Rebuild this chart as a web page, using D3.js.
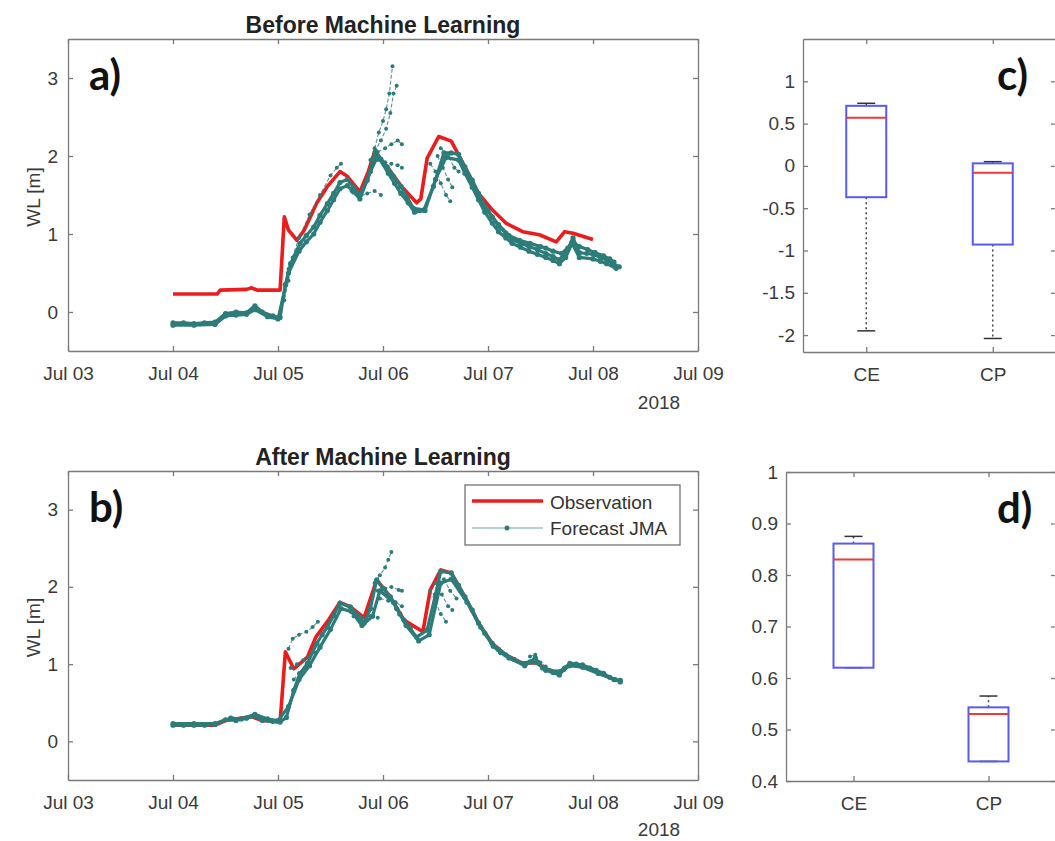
<!DOCTYPE html>
<html lang="en">
<head>
    <meta charset="UTF-8">
    <title>Water level forecast before and after machine learning</title>
    <script src="https://d3js.org/d3.v7.min.js"></script>
    <style>
        body {
            margin: 0;
            background: #ffffff;
            font-family: "Liberation Sans", Arial, sans-serif;
        }
        .tick text {
            fill: #3a3a3a;
            font-size: 19px;
            font-family: "Liberation Sans", Arial, sans-serif;
        }
        .tick line, .domain {
            stroke: #7a7a7a;
            stroke-width: 1.3;
        }
        .title {
            font-size: 23px;
            font-weight: bold;
            fill: #222;
        }
        .ylab, .extra {
            font-size: 19px;
            fill: #3a3a3a;
        }
        .panel-tag {
            font-family: Lato, "Open Sans", sans-serif;
            font-size: 42px;
            font-weight: bold;
            fill: #111;
        }
        .legend-text {
            font-size: 19px;
            fill: #333;
        }
    </style>
</head>
<body>
<svg id="fig" width="1055" height="841"></svg>
<script>
    // water level [m] vs day of July 2018 (decimal days)
    let obsA = [[4.0,0.23],[4.42,0.23],[4.45,0.28],[4.7,0.29],[4.75,0.31],[4.8,0.28],[5.02,0.28],[5.06,1.22],[5.1,1.05],
        [5.18,0.92],[5.25,1.05],[5.37,1.40],[5.47,1.61],[5.59,1.80],[5.66,1.74],[5.78,1.54],[5.86,1.80],[5.92,2.05],
        [6.04,1.86],[6.17,1.62],[6.32,1.40],[6.36,1.45],[6.42,1.97],[6.53,2.25],[6.65,2.19],[6.78,1.86],[6.91,1.52],
        [7.04,1.31],[7.17,1.14],[7.33,1.03],[7.49,0.99],[7.65,0.90],[7.73,1.03],[7.81,1.01],[8.0,0.93]];

    let fcCoreA = [
        [[4.0,-0.14],[4.1,-0.14],[4.2,-0.15],[4.3,-0.14],[4.4,-0.13],[4.5,-0.02],[4.6,0.0],[4.7,-0.01],[4.78,0.08],[4.85,0.0],
         [4.95,-0.05],[5.02,-0.07],[5.07,0.35],[5.12,0.62],[5.21,0.88],[5.27,0.98],[5.34,1.09],[5.4,1.24],[5.47,1.39],[5.53,1.52],
         [5.59,1.66],[5.66,1.70],[5.72,1.60],[5.78,1.50],[5.85,1.69],[5.93,2.06],[5.98,1.96],[6.04,1.86],[6.1,1.74],[6.17,1.61],
         [6.23,1.47],[6.29,1.33],[6.39,1.31],[6.48,1.61],[6.58,2.04],[6.65,2.04],[6.72,2.02],[6.78,1.86],[6.85,1.69],[6.91,1.52],
         [6.97,1.35],[7.04,1.22],[7.10,1.10],[7.17,1.01],[7.23,0.93],[7.31,0.88],[7.39,0.84],[7.47,0.80],[7.55,0.75],[7.62,0.71],
         [7.68,0.67],[7.76,0.80],[7.81,0.95],[7.87,0.76],[7.94,0.75],[8.0,0.74],[8.07,0.70],[8.13,0.67],[8.19,0.62],[8.25,0.58]],
        [[4.0,-0.17],[4.2,-0.17],[4.4,-0.16],[4.5,-0.05],[4.6,-0.04],[4.7,-0.03],[4.78,0.03],[4.9,-0.06],[5.0,-0.09],[5.1,0.5],
         [5.2,0.78],[5.27,0.9],[5.34,1.0],[5.4,1.15],[5.47,1.3],[5.53,1.44],[5.59,1.58],[5.66,1.62],[5.72,1.54],[5.78,1.45],
         [5.88,1.8],[5.95,2.0],[6.05,1.78],[6.11,1.65],[6.17,1.52],[6.24,1.4],[6.3,1.28],[6.4,1.3],[6.5,1.7],[6.6,1.98],
         [6.72,1.95],[6.78,1.78],[6.85,1.6],[6.91,1.44],[6.97,1.28],[7.04,1.14],[7.1,1.03],[7.17,0.95],[7.23,0.88],[7.31,0.83],
         [7.39,0.78],[7.47,0.74],[7.55,0.7],[7.62,0.66],[7.68,0.62],[7.74,0.7],[7.8,0.88],[7.87,0.7],[8.0,0.68],[8.07,0.65],
         [8.13,0.62],[8.22,0.56]],
        [[6.9,1.5],[7.0,1.3],[7.1,1.12],[7.2,0.98],[7.3,0.92],[7.4,0.88],[7.5,0.84],[7.55,0.82],[7.62,0.78],[7.7,0.75],
         [7.76,0.82],[7.8,0.9],[7.87,0.84],[7.95,0.8],[8.02,0.76],[8.1,0.72],[8.16,0.68],[8.2,0.64]]
    ];

    let fcRunsA = [
        [[5.88,1.95],[5.92,2.1],[5.96,2.3],[6.0,2.45],[6.03,2.6],[6.06,2.8],[6.09,3.15]],
        [[5.92,2.05],[5.98,2.2],[6.03,2.35],[6.07,2.55],[6.1,2.8],[6.13,2.9]],
        [[5.95,2.05],[6.02,2.1],[6.08,2.15],[6.14,2.2],[6.18,2.15]],
        [[5.95,1.95],[6.02,1.92],[6.08,1.9],[6.14,1.88],[6.18,1.85]],
        [[5.1,0.55],[5.2,0.95],[5.3,1.25],[5.4,1.5],[5.5,1.75],[5.56,1.85],[5.6,1.9]],
        [[5.02,-0.05],[5.06,0.15],[5.1,0.4],[5.14,0.7]],
        [[5.7,1.55],[5.78,1.48],[5.85,1.52],[5.92,1.55],[5.98,1.5]],
        [[6.45,1.9],[6.5,1.8],[6.55,1.65],[6.6,1.5],[6.64,1.42]],
        [[6.52,2.0],[6.57,1.85],[6.62,1.7],[6.66,1.6]],
        [[6.55,2.1],[6.62,2.0],[6.68,1.85],[6.72,1.8]]
    ];

    let obsB = [[4.0,0.21],[4.4,0.21],[4.5,0.27],[4.75,0.32],[4.85,0.27],[5.02,0.25],[5.07,1.16],[5.15,0.94],[5.28,1.09],
        [5.36,1.35],[5.47,1.55],[5.59,1.8],[5.69,1.74],[5.82,1.6],[5.94,2.09],[6.07,1.87],[6.2,1.57],[6.38,1.42],[6.45,1.96],
        [6.55,2.22],[6.65,2.18],[6.78,1.87],[6.91,1.53],[7.04,1.27],[7.17,1.12],[7.33,1.01],[7.46,1.02],[7.55,0.94],
        [7.68,0.88],[7.78,1.0],[7.9,0.98],[8.0,0.93]];

    let fcCoreB = [
        [[4.0,0.21],[4.1,0.21],[4.2,0.21],[4.3,0.21],[4.4,0.22],[4.5,0.28],[4.6,0.27],[4.7,0.3],[4.78,0.33],[4.85,0.27],
         [4.95,0.26],[5.02,0.25],[5.08,0.31],[5.15,0.66],[5.21,0.88],[5.28,1.01],[5.37,1.27],[5.42,1.38],[5.47,1.48],[5.53,1.63],
         [5.59,1.79],[5.69,1.74],[5.76,1.63],[5.82,1.53],[5.88,1.72],[5.94,2.09],[6.0,1.98],[6.07,1.87],[6.13,1.72],[6.2,1.57],
         [6.26,1.46],[6.32,1.35],[6.42,1.44],[6.5,1.9],[6.55,2.2],[6.65,2.18],[6.72,2.02],[6.78,1.87],[6.85,1.7],[6.91,1.53],
         [6.97,1.4],[7.04,1.27],[7.1,1.19],[7.17,1.12],[7.25,1.06],[7.33,1.01],[7.4,1.03],[7.46,1.02],[7.55,0.92],[7.62,0.89],
         [7.68,0.86],[7.73,0.95],[7.78,1.01],[7.84,1.0],[7.9,0.99],[7.97,0.95],[8.03,0.92],[8.1,0.88],[8.16,0.83],[8.21,0.8],
         [8.26,0.77]],
        [[4.0,0.23],[4.2,0.23],[4.4,0.23],[4.55,0.3],[4.65,0.29],[4.78,0.35],[4.9,0.29],[5.0,0.27],[5.1,0.45],[5.2,0.8],
         [5.3,0.98],[5.4,1.22],[5.5,1.45],[5.6,1.72],[5.7,1.68],[5.8,1.5],[5.9,1.62],[5.97,1.95],[6.1,1.8],[6.16,1.65],
         [6.22,1.5],[6.34,1.3],[6.44,1.38],[6.55,2.05],[6.65,2.1],[6.8,1.8],[6.93,1.48],[7.05,1.23],[7.12,1.15],[7.2,1.08],
         [7.35,0.98],[7.45,1.08],[7.52,0.95],[7.65,0.9],[7.72,0.93],[7.78,0.98],[7.9,0.96],[8.05,0.88],[8.2,0.8],[8.26,0.79]]
    ];

    let fcRunsB = [
        [[5.1,1.2],[5.14,1.33],[5.2,1.38],[5.27,1.42],[5.33,1.48],[5.38,1.55]],
        [[5.12,0.95],[5.18,1.0],[5.24,1.05],[5.3,1.1],[5.35,1.15]],
        [[5.15,0.8],[5.2,0.88],[5.26,0.95],[5.3,1.0]],
        [[5.92,2.05],[5.97,2.15],[6.02,2.25],[6.05,2.35],[6.08,2.45]],
        [[5.95,1.95],[6.02,1.98],[6.08,2.0],[6.15,1.96],[6.18,1.95]],
        [[5.97,1.85],[6.05,1.82],[6.12,1.8],[6.18,1.75]],
        [[5.72,1.62],[5.8,1.6],[5.88,1.62],[5.95,1.6]],
        [[6.45,1.95],[6.5,1.8],[6.55,1.65],[6.6,1.55]],
        [[6.5,2.05],[6.56,1.9],[6.62,1.75],[6.66,1.7]],
        [[6.58,2.1],[6.64,1.95],[6.7,1.85]],
        [[7.4,1.1],[7.45,1.12],[7.5,1.02],[7.55,0.97]]
    ];

    let dayTicks = [3, 4, 5, 6, 7, 8, 9];
    let wlTicks = [0, 1, 2, 3];

    // box plot statistics, order: CE, CP
    let boxNames = ["CE", "CP"];
    let cLow = [-1.95, -2.04], cQ1 = [-0.37, -0.93], cMed = [0.57, -0.08], cQ3 = [0.71, 0.03], cHigh = [0.74, 0.05];
    let dLow = [0.62, 0.438], dQ1 = [0.62, 0.438], dMed = [0.83, 0.53], dQ3 = [0.861, 0.543], dHigh = [0.875, 0.565];
    let cTicks = [-2, -1.5, -1, -0.5, 0, 0.5, 1];
    let dTicks = [0.4, 0.5, 0.6, 0.7, 0.8, 0.9, 1];

    let red = "#ec1c1c", teal = "#2c7c7a";
    let svg = d3.select("#fig");

    let t0 = new Date(2018, 6, 3);
    let toDate = day => new Date(t0.getTime() + (day - 3) * 864e5);
    let num = d => String(d);

    function frame(x, y, box, xVals, xFmt, yVals, yFmt, yPad) {
        let g = svg.append("g");
        g.append("g").attr("transform", "translate(0," + box.bottom + ")")
            .call(d3.axisBottom(x).tickValues(xVals).tickFormat(xFmt).tickSizeInner(-5).tickSizeOuter(0).tickPadding(16));
        g.append("g").attr("transform", "translate(0," + box.top + ")")
            .call(d3.axisTop(x).tickValues(xVals).tickFormat("").tickSizeInner(-5).tickSizeOuter(0));
        g.append("g").attr("transform", "translate(" + box.left + ",0)")
            .call(d3.axisLeft(y).tickValues(yVals).tickFormat(yFmt).tickSizeInner(-5).tickSizeOuter(0).tickPadding(yPad));
        g.append("g").attr("transform", "translate(" + box.right + ",0)")
            .call(d3.axisRight(y).tickValues(yVals).tickFormat("").tickSizeInner(-5).tickSizeOuter(0));
        return g;
    }

    function linePanel(box, obs, core, runs, title, tag, yearY) {
        let x = d3.scaleTime().domain([toDate(3), toDate(9)]).range([box.left, box.right]);
        let y = d3.scaleLinear().domain([-0.5, 3.5]).range([box.bottom, box.top]);
        let line = d3.line().x(d => x(toDate(d[0]))).y(d => y(d[1]));

        svg.append("path").datum(obs).attr("d", line)
            .attr("fill", "none").attr("stroke", red).attr("stroke-width", 3.6).attr("stroke-linejoin", "round");

        core.forEach(run => {
            svg.append("path").datum(run).attr("d", line)
                .attr("fill", "none").attr("stroke", teal).attr("stroke-width", 3.2).attr("stroke-linejoin", "round");
            svg.append("g").selectAll("circle").data(run).enter().append("circle")
                .attr("cx", d => x(toDate(d[0]))).attr("cy", d => y(d[1])).attr("r", 2.6).attr("fill", teal);
        });
        runs.forEach(run => {
            svg.append("path").datum(run).attr("d", line)
                .attr("fill", "none").attr("stroke", teal).attr("stroke-width", 1.1).attr("stroke-opacity", 0.8)
                .attr("stroke-dasharray", "4,2");
            svg.append("g").selectAll("circle").data(run).enter().append("circle")
                .attr("cx", d => x(toDate(d[0]))).attr("cy", d => y(d[1])).attr("r", 2).attr("fill", teal);
        });

        frame(x, y, box, dayTicks.map(toDate), d3.timeFormat("%b %d"), wlTicks, num, 10);

        svg.append("text").attr("class", "title").attr("x", 383).attr("y", box.top - 6)
            .attr("text-anchor", "middle").text(title);
        svg.append("text").attr("class", "panel-tag").attr("x", box.left + 21).attr("y", box.top + 51).text(tag);
        svg.append("text").attr("class", "ylab").attr("text-anchor", "middle")
            .attr("transform", "translate(40," + ((box.top + box.bottom) / 2 + 2) + ") rotate(-90)").text("WL [m]");
        svg.append("text").attr("class", "extra").attr("x", 659).attr("y", yearY)
            .attr("text-anchor", "middle").text("2018");
        return { x: x, y: y };
    }

    function boxPanel(box, domain, ticks, lo, q1, med, q3, hi, tag) {
        let x = d3.scaleLinear().domain([0.5, 2.5]).range([box.left, box.right]);
        let y = d3.scaleLinear().domain(domain).range([box.bottom, box.top]);
        let g = svg.append("g");
        boxNames.forEach((name, i) => {
            let cx = x(i + 1);
            g.append("line").attr("x1", cx).attr("x2", cx).attr("y1", y(q3[i])).attr("y2", y(hi[i]))
                .attr("stroke", "#444").attr("stroke-width", 1.5).attr("stroke-dasharray", "2,3");
            g.append("line").attr("x1", cx).attr("x2", cx).attr("y1", y(q1[i])).attr("y2", y(lo[i]))
                .attr("stroke", "#444").attr("stroke-width", 1.5).attr("stroke-dasharray", "2,3");
            [hi[i], lo[i]].forEach(v => {
                g.append("line").attr("x1", cx - 9).attr("x2", cx + 9).attr("y1", y(v)).attr("y2", y(v))
                    .attr("stroke", "#333").attr("stroke-width", 1.5);
            });
            g.append("rect").attr("x", cx - 20).attr("width", 40)
                .attr("y", y(q3[i])).attr("height", y(q1[i]) - y(q3[i]))
                .attr("fill", "none").attr("stroke", "#5a5af0").attr("stroke-width", 2);
            g.append("line").attr("x1", cx - 20).attr("x2", cx + 20).attr("y1", y(med[i])).attr("y2", y(med[i]))
                .attr("stroke", "#f03a3a").attr("stroke-width", 2);
        });
        frame(x, y, box, [1, 2], i => boxNames[i - 1], ticks, num, 8);
        svg.append("text").attr("class", "panel-tag").attr("x", 997).attr("y", box.top + 51).text(tag);
    }

    linePanel({ left: 68, right: 698, top: 39, bottom: 351 }, obsA, fcCoreA, fcRunsA, "Before Machine Learning", "a)", 409);
    linePanel({ left: 68, right: 698, top: 471, bottom: 780 }, obsB, fcCoreB, fcRunsB, "After Machine Learning", "b)", 836);

    boxPanel({ left: 803, right: 1056, top: 39, bottom: 352 }, [-2.2, 1.5], cTicks, cLow, cQ1, cMed, cQ3, cHigh, "c)");
    boxPanel({ left: 786, right: 1056, top: 472, bottom: 781 }, [0.4, 1], dTicks, dLow, dQ1, dMed, dQ3, dHigh, "d)");

    // legend in panel b
    let lg = svg.append("g");
    lg.append("rect").attr("x", 465).attr("y", 485).attr("width", 215).attr("height", 60)
        .attr("fill", "#fff").attr("stroke", "#666").attr("stroke-width", 1.2);
    lg.append("line").attr("x1", 472).attr("x2", 543).attr("y1", 501).attr("y2", 501)
        .attr("stroke", red).attr("stroke-width", 3.5);
    lg.append("line").attr("x1", 472).attr("x2", 543).attr("y1", 528).attr("y2", 528)
        .attr("stroke", teal).attr("stroke-width", 1).attr("stroke-opacity", 0.7);
    lg.append("circle").attr("cx", 507).attr("cy", 528).attr("r", 2.5).attr("fill", teal);
    lg.append("text").attr("class", "legend-text").attr("x", 550).attr("y", 509).text("Observation");
    lg.append("text").attr("class", "legend-text").attr("x", 550).attr("y", 535).text("Forecast JMA");
</script>
</body>
</html>
